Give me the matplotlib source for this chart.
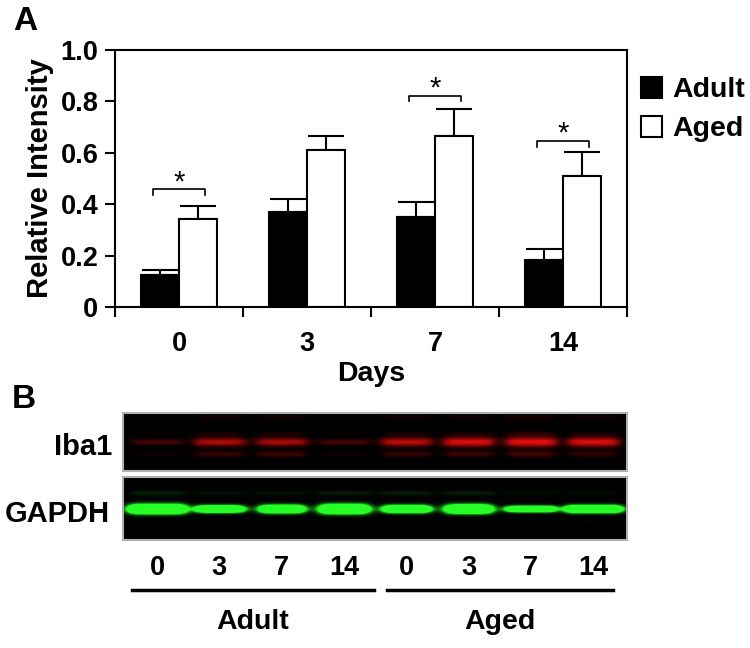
import numpy as np
import matplotlib
matplotlib.use("Agg")
import matplotlib.pyplot as plt
import matplotlib.transforms as mtransforms
from matplotlib.lines import Line2D

plt.rcParams['font.family'] = ['Liberation Sans', 'DejaVu Sans']
plt.rcParams['font.weight'] = 'bold'
plt.rcParams['axes.labelweight'] = 'bold'

# ---------------- data ----------------
days = ['0', '3', '7', '14']
adult = [0.124, 0.369, 0.351, 0.183]
adult_err = [0.019, 0.050, 0.056, 0.044]
aged = [0.342, 0.612, 0.665, 0.511]
aged_err = [0.052, 0.053, 0.105, 0.091]
sig_level = [0.459, None, 0.822, 0.646]   # bracket heights (None = not significant)
yticks = [0, 0.2, 0.4, 0.6, 0.8, 1.0]
ytick_labels = ['0', '0.2', '0.4', '0.6', '0.8', '1.0']
series_labels = ['Adult', 'Aged']

lane_labels = ['0', '3', '7', '14', '0', '3', '7', '14']
group_labels = ['Adult', 'Aged']
iba1_main = [0.30, 0.75, 0.72, 0.30, 0.80, 0.95, 1.00, 0.95]
iba1_lower = [0.06, 0.25, 0.28, 0.06, 0.25, 0.28, 0.32, 0.22]
iba1_upper = [0.03, 0.12, 0.12, 0.03, 0.10, 0.10, 0.18, 0.10]
gapdh_thick = [9.5, 7.0, 8.0, 9.5, 7.5, 9.0, 6.0, 7.5]
gapdh_halfwidth = [0.44, 0.36, 0.33, 0.37, 0.35, 0.35, 0.37, 0.43]
gapdh_upper = [0.14, 0.06, 0.07, 0.12, 0.12, 0.12, 0.05, 0.05]

W, H = 750, 648
fig = plt.figure(figsize=(W / 100, H / 100), dpi=100)

def fx(px):
    return px / W

def fy(py):
    return 1 - py / H

# ---------------- panel A ----------------
ax = fig.add_axes([fx(115), fy(307), fx(627 - 115), fy(50) - fy(307)])
x = np.arange(len(days))
bw = 0.293
b1 = ax.bar(x - bw / 2, adult, bw, color='black', edgecolor='black', linewidth=1.5,
            label=series_labels[0], zorder=2)
b2 = ax.bar(x + bw / 2, aged, bw, color='white', edgecolor='black', linewidth=1.5,
            label=series_labels[1], zorder=2)
ax.errorbar(x - bw / 2, adult, yerr=[np.zeros(len(adult)), adult_err], fmt='none',
            ecolor='black', elinewidth=1.5, capsize=13, capthick=1.5, zorder=1)
ax.errorbar(x + bw / 2, aged, yerr=[np.zeros(len(aged)), aged_err], fmt='none',
            ecolor='black', elinewidth=1.5, capsize=13, capthick=1.5, zorder=1)

for i, lev in enumerate(sig_level):
    if lev is None:
        continue
    leg = 0.022
    ax.plot([i - 0.2, i - 0.2, i + 0.2, i + 0.2], [lev - leg, lev, lev, lev - leg],
            color='black', lw=1.2)
    ax.text(i, lev + 0.027, '*', ha='center', va='center', fontsize=21,
            fontweight='normal')

ax.set_xlim(-0.5, len(days) - 0.5)
ax.set_ylim(0, 1.0)
ax.set_yticks(yticks)
ax.set_yticklabels(ytick_labels)
ax.set_xticks(x)
ax.set_xticklabels(days)
ax.set_xticks(np.arange(-0.5, len(days)), minor=True)
ax.tick_params(axis='x', which='major', length=0, pad=17, labelsize=19.5)
ax.tick_params(axis='x', which='minor', length=7, width=1.5, direction='out')
ax.tick_params(axis='y', length=7, width=1.5, direction='out', pad=5, labelsize=19.5)
for s in ax.spines.values():
    s.set_linewidth(1.5)
ax.set_ylabel('Relative Intensity', fontsize=21, labelpad=5)
ax.set_xlabel('Days', fontsize=20.5, labelpad=3)
ax.legend(handles=[b1, b2], loc='upper left', bbox_to_anchor=(1.005, 0.94),
          frameon=False, fontsize=20.5, handlelength=0.75, handleheight=0.75,
          handletextpad=0.35, labelspacing=0.45, borderaxespad=0.0)

fig.text(fx(13), fy(22), 'A', fontsize=24, ha='left', va='center')
fig.text(fx(12), fy(399), 'B', fontsize=24, ha='left', va='center')

# ---------------- panel B (blot) ----------------
nl = len(lane_labels)
xl0, xl1 = -0.546, nl - 1 + 0.546
lanes = np.arange(nl)

def lane_profile(xx, c, hw=0.42, soft=0.05):
    return 1.0 / (1.0 + np.exp((np.abs(xx - c) - hw) / soft))

def make_img(h, bands, color):
    ww = 504
    xx = np.linspace(xl0, xl1, ww)[None, :]
    yy = np.arange(h)[:, None] + 0.5
    val = np.zeros((h, ww))
    for (c, yc, sig, amp, hw) in bands:
        val += amp * lane_profile(xx, c, hw) * np.exp(-0.5 * ((yy - yc) / sig) ** 2)
    val = np.clip(val, 0, 1)
    img = np.zeros((h, ww, 3))
    for k in range(3):
        img[..., k] = val * color[k]
    return img

# Iba1 panel
h1 = 58
bands = []
for i in lanes:
    bands.append((i, 29.0, 1.5 + 1.8 * iba1_main[i], 1.0 * iba1_main[i], 0.40))
    bands.append((i, 41.0, 2.2, 0.9 * iba1_lower[i], 0.38))
    bands.append((i, 21.0, 1.8, 0.9 * iba1_upper[i], 0.36))
    bands.append((i, 5.0, 1.8, 0.6 * iba1_upper[i], 0.36))
img1 = make_img(h1, bands, (0.93, 0.05, 0.05))

ax1 = fig.add_axes([fx(123), fy(471), fx(627 - 123), fy(413) - fy(471)])
ax1.imshow(img1, extent=(xl0, xl1, h1, 0), aspect='auto', interpolation='bilinear')
ax1.set_xlim(xl0, xl1)
ax1.set_ylim(h1, 0)
ax1.set_xticks([])
ax1.set_yticks([])
for s in ax1.spines.values():
    s.set_color('#b0b0b0')
    s.set_linewidth(1.5)

# GAPDH panel
h2 = 63
bands = []
for i in lanes:
    bands.append((i, 32.0, gapdh_thick[i] / 3.3, 4.0, gapdh_halfwidth[i]))
    bands.append((i, 16.0, 1.6, gapdh_upper[i], 0.42))
img2 = make_img(h2, bands, (0.15, 1.0, 0.15))

ax2 = fig.add_axes([fx(123), fy(540), fx(627 - 123), fy(477) - fy(540)])
ax2.imshow(img2, extent=(xl0, xl1, h2, 0), aspect='auto', interpolation='bilinear')
ax2.set_xlim(xl0, xl1)
ax2.set_ylim(h2, 0)
ax2.set_xticks([])
ax2.set_yticks([])
for s in ax2.spines.values():
    s.set_color('#b0b0b0')
    s.set_linewidth(1.5)

fig.text(fx(112), fy(447), 'Iba1', fontsize=21, ha='right', va='center')
fig.text(fx(110), fy(514), 'GAPDH', fontsize=21, ha='right', va='center')

tr = mtransforms.blended_transform_factory(ax2.transData, fig.transFigure)
for i, lab in enumerate(lane_labels):
    fig.text(i, fy(568), lab, transform=tr, fontsize=19.5, ha='center', va='center')

group_spans = [(-0.40, 3.48), (3.69, 7.32)]
for (a, b), lab in zip(group_spans, group_labels):
    fig.add_artist(Line2D([a, b], [fy(590), fy(590)], transform=tr, color='black', lw=2.5))
    fig.text((a + b) / 2, fy(622), lab, transform=tr, fontsize=20.5, ha='center', va='center')

fig.savefig('out.png', dpi=100)
